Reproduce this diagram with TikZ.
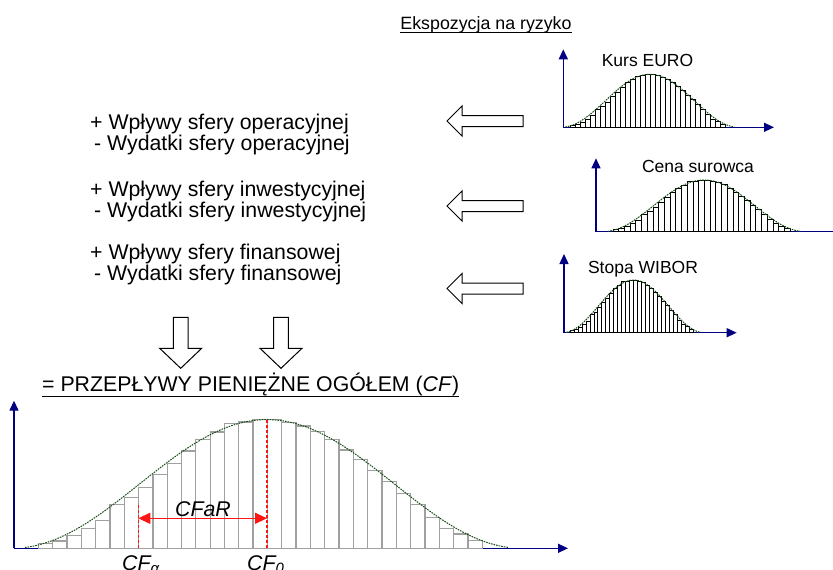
\documentclass[tikz,border=0pt]{standalone}
\usepackage{fontspec}
\setmainfont{Liberation Sans}
\usetikzlibrary{arrows.meta}

\definecolor{axisblue}{RGB}{0,0,128}
\definecolor{curvegreen}{RGB}{25,75,25}
\definecolor{bargray}{RGB}{160,160,160}
\definecolor{cfred}{RGB}{255,20,20}

% histogram with a bell curve: x0, width, baseline, height, bar style
\newcommand\drawhist[5]{%
  \foreach \h [count=\i] in {4.7,7.3,13,19.7,28,44,50.7,60.7,74,84.7,97.3,108.7,116.3,124.7,126.3,128.7,128.7,125.5,122.3,116.7,109,98.3,89,77.7,66.7,55,44,30.7,20,14.3,7.7}{%
    \draw[#5] ({#1+(\i-1)/31*#2},#3) rectangle ({#1+\i/31*#2},{#3-\h/128.7*#4});
  }%
  \draw[bellcurve] plot[domain=-0.03:1.06,samples=90,smooth]
    ({#1+\x*#2},{#3-#4*pow(cos(deg(pi*(\x-0.515)/1.148)),2)});
}

\tikzset{
  axis/.style={draw=axisblue,line width=1.4pt,-{Triangle[length=10pt,width=9pt]}},
  plainaxis/.style={draw=axisblue,line width=1.4pt},
  mainbar/.style={draw=bargray,fill=white,line width=1.3pt},
  smallbar/.style={draw=black,fill=white,line width=0.7pt},
  bellcurve/.style={draw=curvegreen,line width=1pt,dash pattern=on 1.6pt off 1pt},
  blockarrow/.style={draw=black,fill=white,line width=1pt,line join=miter},
  reddash/.style={draw=cfred,line width=1.6pt,dash pattern=on 3pt off 2pt},
  redarrow/.style={draw=cfred,line width=1.3pt,
    {Triangle[length=12pt,width=11pt]}-{Triangle[length=12pt,width=11pt]}},
  bigtext/.style={inner sep=0pt,anchor=base west,font=\fontsize{21.3}{25}\selectfont},
  smalltext/.style={inner sep=0pt,anchor=base,font=\fontsize{17.5}{20}\selectfont},
  uline/.style={draw=black,line width=1.4pt},
  leftblock/.pic={\draw[blockarrow] (0,0) -- (15,-15) -- (15,-5.5) -- (76,-5.5)
      -- (76,5.5) -- (15,5.5) -- (15,15) -- cycle;},
  downblock/.pic={\draw[blockarrow] (0,0) -- (-21,-20) -- (-7.3,-20) -- (-7.3,-51)
      -- (7.3,-51) -- (7.3,-20) -- (21,-20) -- cycle;}
}

\begin{document}
\begin{tikzpicture}[x=1pt,y=-1pt]
\useasboundingbox (0,0) rectangle (833,570);
\fill[white] (0,0) rectangle (833,570);

% ---- heading of the risk panel
\node[smalltext,font=\fontsize{17.8}{20}\selectfont] (expo) at (486,29) {Ekspozycja na ryzyko};
\draw[uline,line width=1.1pt] ([yshift=-3.5pt]expo.base west) -- ([yshift=-3.5pt]expo.base east);

% ---- risk factor 1: exchange rate
\draw[axis] (563.3,127.3) -- (563.3,49.3);
\draw[axis] (563.3,127.3) -- (774,127.3);
\drawhist{570}{155}{127.3}{53}{smallbar}
\node[smalltext] (euro) at (647.5,66) {Kurs EURO};

% ---- risk factor 2: raw material price
\draw[axis] (596,231.7) -- (596,158.3);
\draw[plainaxis] (596,231.7) -- (833,231.7);
\drawhist{613}{177}{231.7}{51.7}{smallbar}
\node[smalltext] (raw) at (698,172) {Cena surowca};

% ---- risk factor 3: interest rate
\draw[axis] (564,332.7) -- (564,254);
\draw[axis] (564,332.7) -- (736.7,332.7);
\drawhist{570}{123.3}{332.7}{52.7}{smallbar}
\node[smalltext] (wibor) at (643,273) {Stopa WIBOR};

% ---- cash flow components
\node[bigtext] (op1) at (90,129) {+ Wpływy sfery operacyjnej};
\node[bigtext] (op2) at (94,150) {- Wydatki sfery operacyjnej};
\node[bigtext] (in1) at (90,196) {+ Wpływy sfery inwestycyjnej};
\node[bigtext] (in2) at (94,217) {- Wydatki sfery inwestycyjnej};
\node[bigtext] (fi1) at (90,259) {+ Wpływy sfery finansowej};
\node[bigtext] (fi2) at (94,280) {- Wydatki sfery finansowej};

% ---- block arrows from risk factors and into the total
\pic at (447,121) {leftblock};
\pic at (447,206) {leftblock};
\pic at (447,288.5) {leftblock};
\pic at (180.7,368.3) {downblock};
\pic at (281,368.3) {downblock};

% ---- total cash flow
\node[bigtext] (total) at (42,391) {= PRZEPŁYWY PIENIĘŻNE OGÓŁEM (\textit{CF})};
\draw[uline] ([yshift=-5.5pt]total.base west) -- ([yshift=-5.5pt]total.base east);

\draw[axis] (14,548.3) -- (14,400.7);
\draw[axis] (14,548.3) -- (568,548.3);
\drawhist{38.3}{444}{548.3}{128.7}{mainbar}

% ---- CFaR markers
\coordinate (cfabase) at (138.3,548.3);
\coordinate (cfatop) at (138.3,503.3);
\coordinate (cf0base) at (267,548.3);
\coordinate (cf0top) at (267,419.3);
\coordinate (cfaarr) at (138.3,518.3);
\coordinate (cf0arr) at (267,518.3);
\draw[reddash] (cfabase) -- (cfatop);
\draw[reddash] (cf0base) -- (cf0top);
\draw[redarrow] (cfaarr) -- (cf0arr);
\node[bigtext,anchor=base] (cfar) at (203,516.5) {\textit{CFaR}};
\node[bigtext] (cfa) at (122,570.5) {\textit{CF\textsubscript{α}}};
\node[bigtext] (cf0) at (247,570.5) {\textit{CF\textsubscript{0}}};
\end{tikzpicture}
\end{document}
